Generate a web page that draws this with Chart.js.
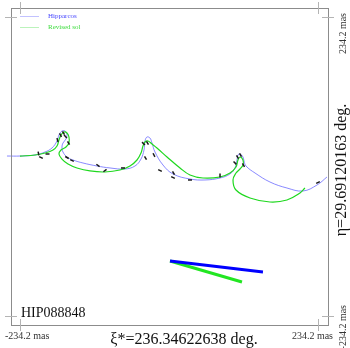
<!DOCTYPE html>
<html lang="en">
<head>
  <meta charset="UTF-8">
  <title>HIP088848</title>
  <style>
    html, body { margin: 0; padding: 0; background: #fff; }
    .chart-container { width: 350px; height: 348px; }
  </style>
</head>
<body>
  <div class="chart-container">
    <canvas id="myChart" width="350" height="348"></canvas>
  </div>

  <script src="https://cdn.jsdelivr.net/npm/chart.js"></script>
  <script>
    // Labels.
    const STAR_NAME = 'HIP088848';
    const XI_LABEL = 'ξ*=236.34622638 deg.';
    const ETA_LABEL = 'η=29.69120163 deg.';
    const SERIES_NAMES = ['Hipparcos', 'Revised sol'];

    // Tick values (mas) and their labels.
    const TICK_VALUES = [-234.2, 234.2];
    const TICK_LABELS = ['-234.2 mas', '234.2 mas'];

    // Hipparcos path (mas).
    const hipX = [-254.6, -234.2, -210.6, -194.9, -183.9, -176.0, -172.9, -168.2, -163.4, -160.3,
      -161.9, -166.6, -168.2, -166.6, -160.3, -150.9, -135.2, -113.2, -92.7, -69.2,
      -53.4, -44.0, -39.3, -37.7, -34.6, -29.9, -26.7, -22.0, -9.4, 6.3,
      33.0, 56.6, 80.2, 95.9, 103.7, 106.9, 108.4, 111.6, 116.3, 117.9,
      121.0, 135.2, 158.7, 185.4, 210.6, 232.6, 248.3];
    const hipY = [16.4, 16.4, 18.0, 22.7, 29.0, 39.9, 49.3, 55.6, 55.6, 50.9,
      43.1, 36.8, 30.5, 22.7, 14.9, 10.2, 5.5, 0.8, -2.3, -3.9,
      0.8, 11.7, 25.8, 39.9, 46.2, 44.6, 36.8, 22.7, 2.3, -11.7,
      -19.6, -21.1, -18.0, -11.7, -2.3, 10.2, 18.0, 19.6, 14.9, 8.6,
      0.8, -10.2, -24.3, -33.7, -38.4, -29.0, -16.4];

    // Revised solution path (mas).
    const solX = [-234.2, -210.6, -194.9, -182.3, -176.0, -172.9, -169.7, -165.0, -160.3, -157.2,
      -157.2, -161.9, -169.7, -172.9, -168.2, -158.7, -144.6, -124.2, -100.6, -77.0,
      -61.3, -50.3, -44.0, -40.9, -37.7, -33.0, -26.7, -18.9, -3.1, 17.3,
      33.0, 53.4, 80.2, 95.9, 105.3, 108.4, 111.6, 116.3, 116.3, 111.6,
      105.3, 100.6, 105.3, 127.3, 158.7, 185.4, 205.9, 213.7];
    const solY = [16.4, 18.0, 21.1, 25.8, 32.1, 41.5, 49.3, 54.0, 52.5, 46.2,
      36.8, 30.5, 25.8, 19.6, 11.7, 3.9, -2.3, -7.0, -8.6, -5.5,
      0.8, 10.2, 21.1, 32.1, 38.4, 39.9, 35.2, 29.0, 14.9, -2.3,
      -13.3, -18.0, -16.4, -10.2, -0.8, 10.2, 14.9, 10.2, 2.3, -3.9,
      -10.2, -21.1, -36.8, -49.3, -55.6, -52.5, -41.5, -33.7];

    // Observation marks (mas) and their direction (deg).
    const markX = [-205.1, -201.2, -190.9, -175.2, -170.5, -165.8, -162.7, -157.9, -160.3, -152.4,
      -111.6, -100.6, -72.3, -40.1, -33.8, -36.9, -23.6, -14.1, 6.3, 7.1,
      33.0, 80.2, 103.7, 107.7, 112.4, 117.1, 234.2, -229.5];
    const markY = [20.4, 14.1, 19.6, 41.5, 49.3, 52.5, 47.0, 36.8, 14.1, 9.4,
      1.6, -6.3, -2.3, 36.0, 36.8, 13.3, 18.0, -6.3, -17.2, -10.2,
      -21.1, -14.1, 5.5, 14.9, 18.0, 2.3, -25.1, 259.3];
    const markAngle = [80, 25, 0, 75, 60, 60, 45, 60, 30, 25,
      37, -37, 0, 45, 60, 60, 63, 25, 25, 60,
      0, 90, 45, 60, 60, 60, -25, -60];

    // Proper motion vectors (mas).
    const pmHipX = [1.6, 147.7];
    const pmHipY = [-148.0, -165.3];
    const pmSolX = [1.6, 114.7];
    const pmSolY = [-148.0, -180.9];

    const zip = (xs, ys) => xs.map((x, i) => ({x, y: ys[i]}));

    /**
     * Frame, crossed ticks, axis labels and the small legend.
     */
    const framePlugin = {
      id: 'frame',
      afterDraw(chart) {
        const {ctx, chartArea: a, scales: {x, y}} = chart;
        ctx.save();
        ctx.lineWidth = 1;
        ctx.strokeStyle = '#8c8c8c';
        ctx.strokeRect(a.left + 0.5, a.top + 0.5, a.right - a.left, a.bottom - a.top);

        // Ticks cross the frame.
        ctx.strokeStyle = '#b4b4b4';
        ctx.beginPath();
        TICK_VALUES.forEach(v => {
          const px = Math.round(x.getPixelForValue(v)) + 0.5;
          const py = Math.round(y.getPixelForValue(v)) + 0.5;
          ctx.moveTo(px, a.top - 6); ctx.lineTo(px, a.top + 6);
          ctx.moveTo(px, a.bottom - 6); ctx.lineTo(px, a.bottom + 6);
          ctx.moveTo(a.left - 6, py); ctx.lineTo(a.left + 6, py);
          ctx.moveTo(a.right - 6, py); ctx.lineTo(a.right + 6, py);
        });
        ctx.stroke();

        // Bottom tick labels.
        ctx.fillStyle = '#333';
        ctx.font = '10px "Liberation Serif", serif';
        ctx.textBaseline = 'alphabetic';
        ctx.textAlign = 'left';
        ctx.fillText(TICK_LABELS[0], 5, 339);
        ctx.textAlign = 'right';
        ctx.fillText(TICK_LABELS[1], 333, 339);

        // Right tick labels, rotated.
        ctx.save();
        ctx.translate(346, 0);
        ctx.rotate(-Math.PI / 2);
        ctx.textAlign = 'right';
        ctx.fillText(TICK_LABELS[1], -13, 0);
        ctx.fillText(TICK_LABELS[0], -305, 0);
        ctx.restore();

        // Coordinate titles.
        ctx.fillStyle = '#111';
        ctx.font = '16px "Liberation Serif", serif';
        ctx.textAlign = 'center';
        ctx.fillText(XI_LABEL, 184, 344);
        ctx.save();
        ctx.translate(346, 170);
        ctx.rotate(-Math.PI / 2);
        ctx.fillText(ETA_LABEL, 0, 0);
        ctx.restore();

        // Star name.
        ctx.textAlign = 'left';
        ctx.font = '14px "Liberation Serif", serif';
        ctx.fillText(STAR_NAME, 21, 317);

        // Legend.
        const legend = [
          {text: SERIES_NAMES[0], line: 'rgba(120,120,255,0.45)', color: '#4646ff', y: 16},
          {text: SERIES_NAMES[1], line: 'rgba(60,220,60,0.35)', color: '#3cdc3c', y: 27}
        ];
        ctx.font = '7px "Liberation Serif", serif';
        ctx.textBaseline = 'middle';
        legend.forEach(item => {
          ctx.strokeStyle = item.line;
          ctx.beginPath();
          ctx.moveTo(20, item.y + 0.5);
          ctx.lineTo(39, item.y + 0.5);
          ctx.stroke();
          ctx.fillStyle = item.color;
          ctx.fillText(item.text, 48, item.y);
        });
        ctx.restore();
      }
    };

    function drawChart() {
      const canvas = document.querySelector('#myChart');

      const config = {
        type: 'scatter',
        data: {
          datasets: [
            {
              label: SERIES_NAMES[0],
              data: zip(hipX, hipY),
              showLine: true,
              borderColor: 'rgba(90,90,255,0.8)',
              borderWidth: 0.9,
              pointRadius: 0,
              tension: 0.4,
              clip: false,
              order: 3
            },
            {
              label: SERIES_NAMES[1],
              data: zip(solX, solY),
              showLine: true,
              borderColor: '#1fd81f',
              borderWidth: 1.2,
              pointRadius: 0,
              tension: 0.4,
              clip: false,
              order: 2
            },
            {
              label: 'obs',
              data: zip(markX, markY),
              showLine: false,
              pointStyle: 'line',
              pointRadius: 2,
              pointRotation: markAngle,
              pointBorderColor: '#1a1a1a',
              pointBorderWidth: 1.5,
              clip: false,
              order: 1
            },
            {
              label: 'pm ' + SERIES_NAMES[0],
              data: zip(pmHipX, pmHipY),
              showLine: true,
              borderColor: '#0000ff',
              borderWidth: 3,
              pointRadius: 0,
              order: 0
            },
            {
              label: 'pm ' + SERIES_NAMES[1],
              data: zip(pmSolX, pmSolY),
              showLine: true,
              borderColor: '#22e622',
              borderWidth: 3,
              pointRadius: 0,
              order: 0
            }
          ]
        },
        options: {
          responsive: false,
          animation: false,
          devicePixelRatio: 1,
          layout: {padding: {left: 11, top: 8, right: 22, bottom: 23}},
          plugins: {
            legend: {display: false},
            tooltip: {enabled: false}
          },
          scales: {
            x: {type: 'linear', min: -248.3, max: 249.9, display: false},
            y: {type: 'linear', min: -248.3, max: 248.3, display: false}
          }
        },
        plugins: [framePlugin]
      };

      return new Chart(canvas, config);
    }

    window.chart = drawChart();
  </script>
</body>
</html>
